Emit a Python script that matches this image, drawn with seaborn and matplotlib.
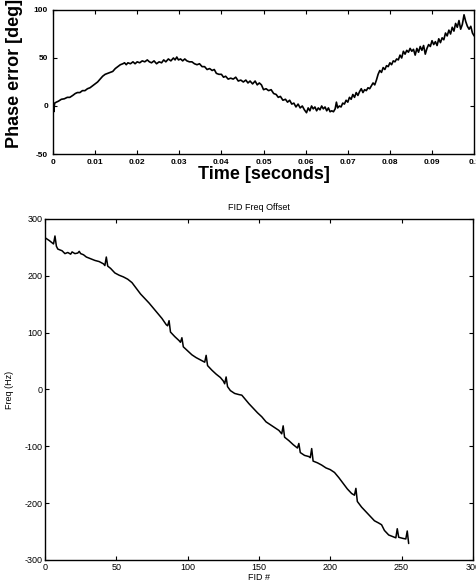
import matplotlib
matplotlib.use("Agg")
import matplotlib.pyplot as plt
import seaborn as sns

sns.set_theme(style="ticks")
plt.rcParams['font.family'] = ['Liberation Sans', 'DejaVu Sans']
plt.rcParams['text.color'] = 'black'
plt.rcParams['axes.labelcolor'] = 'black'
plt.rcParams['xtick.color'] = 'black'
plt.rcParams['ytick.color'] = 'black'
plt.rcParams['axes.unicode_minus'] = False

# top panel: phase error vs time
time_s = [0.0000, 0.0002, 0.0004, 0.0008, 0.0013, 0.0020, 0.0027, 0.0034, 0.0040, 0.0047,
          0.0053, 0.0058, 0.0064, 0.0070, 0.0076, 0.0082, 0.0088, 0.0094, 0.0100, 0.0106,
          0.0112, 0.0118, 0.0124, 0.0130, 0.0136, 0.0142, 0.0148, 0.0154, 0.0160, 0.0166,
          0.0170, 0.0174, 0.0178, 0.0184, 0.0190, 0.0195, 0.0200, 0.0206, 0.0212, 0.0218,
          0.0224, 0.0229, 0.0234, 0.0240, 0.0246, 0.0252, 0.0258, 0.0263, 0.0268, 0.0274,
          0.0280, 0.0286, 0.0290, 0.0294, 0.0298, 0.0303, 0.0308, 0.0313, 0.0318, 0.0324,
          0.0330, 0.0336, 0.0342, 0.0348, 0.0354, 0.0360, 0.0366, 0.0372, 0.0378, 0.0383,
          0.0388, 0.0394, 0.0400, 0.0405, 0.0410, 0.0416, 0.0422, 0.0428, 0.0434, 0.0440,
          0.0446, 0.0452, 0.0458, 0.0463, 0.0468, 0.0474, 0.0480, 0.0485, 0.0490, 0.0495,
          0.0500, 0.0506, 0.0512, 0.0518, 0.0524, 0.0530, 0.0535, 0.0540, 0.0546, 0.0552,
          0.0557, 0.0562, 0.0567, 0.0572, 0.0577, 0.0582, 0.0587, 0.0592, 0.0597, 0.0602,
          0.0606, 0.0610, 0.0614, 0.0618, 0.0622, 0.0626, 0.0630, 0.0634, 0.0638, 0.0642,
          0.0646, 0.0650, 0.0654, 0.0658, 0.0662, 0.0666, 0.0670, 0.0673, 0.0676, 0.0680,
          0.0684, 0.0688, 0.0692, 0.0696, 0.0700, 0.0704, 0.0708, 0.0712, 0.0716, 0.0720,
          0.0724, 0.0728, 0.0732, 0.0736, 0.0740, 0.0744, 0.0748, 0.0752, 0.0756, 0.0760,
          0.0764, 0.0768, 0.0772, 0.0776, 0.0780, 0.0784, 0.0788, 0.0792, 0.0796, 0.0800,
          0.0804, 0.0808, 0.0812, 0.0816, 0.0820, 0.0824, 0.0828, 0.0832, 0.0836, 0.0840,
          0.0844, 0.0848, 0.0852, 0.0856, 0.0860, 0.0864, 0.0868, 0.0872, 0.0876, 0.0880,
          0.0884, 0.0888, 0.0892, 0.0896, 0.0900, 0.0904, 0.0908, 0.0912, 0.0916, 0.0920,
          0.0924, 0.0928, 0.0932, 0.0936, 0.0940, 0.0944, 0.0948, 0.0952, 0.0956, 0.0960,
          0.0964, 0.0968, 0.0972, 0.0976, 0.0980, 0.0984, 0.0988, 0.0992, 0.0996, 0.1000]
phase_deg = [2, -6, 3, 4, 5, 7, 7.5, 9, 9, 11,
             13, 14, 14, 16, 16, 18, 19, 21, 23, 25,
             28, 31, 33, 34, 35, 36, 39, 41, 43, 44,
             45, 43, 45, 44, 46, 44, 46, 45, 47, 46,
             48, 46, 45, 47, 44, 46, 45, 48, 46, 49,
             47, 50, 48, 51, 48, 49, 47, 49, 47, 46,
             46, 44, 43, 44, 41, 41, 38, 39, 37, 38,
             34, 33, 33, 30, 31, 28, 29, 28, 30, 26,
             27, 25, 27, 24, 26, 23, 26, 22, 24, 22,
             17, 18, 16, 17, 13, 12, 9, 10, 6, 7,
             4, 6, 2, 3, -1, 2, -2, 0, -4, -7,
             -2, -5, 0, -3, -1, -5, -2, -4, 0, -3,
             -1, -5, -2, -6, -5, -6, -3, 4, -2, 0,
             -1, 3, 2, 6, 4, 9, 7, 12, 9, 14,
             11, 15, 18, 14, 17, 16, 19, 18, 21, 24,
             22, 27, 33, 37, 35, 40, 38, 42, 41, 45,
             43, 47, 46, 49, 48, 53, 50, 57, 54, 58,
             56, 60, 57, 59, 53, 60, 56, 62, 58, 63,
             54, 60, 64, 62, 68, 64, 67, 63, 70, 66,
             71, 69, 76, 73, 79, 75, 82, 78, 86, 82,
             89, 80, 85, 95, 88, 83, 80, 83, 76, 73]
time_ticks = [0, 0.01, 0.02, 0.03, 0.04, 0.05, 0.06, 0.07, 0.08, 0.09, 0.1]
time_tick_labels = ['0', '0.01', '0.02', '0.03', '0.04', '0.05', '0.06', '0.07', '0.08', '0.09', '0.1']
phase_ticks = [-50, 0, 50, 100]

# bottom panel: frequency offset per FID
fid_num = [0, 3, 6, 7, 8, 9, 12, 14, 16, 18, 19, 21, 23, 24, 25, 27, 29, 32, 35, 38,
           41, 42, 43, 44, 46, 49, 52, 55, 58, 61, 64, 67, 70, 73, 76, 79, 82, 85, 86, 87,
           88, 91, 94, 95, 96, 97, 100, 103, 106, 109, 112, 113, 114, 117, 120, 123, 125, 126, 127, 128,
           130, 133, 136, 138, 140, 143, 146, 149, 152, 155, 158, 161, 164, 166, 167, 168, 171, 174, 177, 178,
           179, 182, 185, 186, 187, 188, 191, 194, 197, 200, 203, 206, 209, 212, 215, 217, 218, 219, 222, 225,
           228, 231, 234, 236, 238, 241, 244, 246, 247, 248, 251, 253, 254, 255]
freq_hz = [267, 262, 256, 270, 252, 247, 244, 239, 241, 238, 242, 239, 240, 243, 239, 237, 233, 230, 227, 225,
           221, 218, 233, 217, 213, 205, 201, 198, 194, 188, 178, 168, 160, 152, 143, 134, 125, 114, 112, 121,
           101, 93, 86, 83, 91, 75, 68, 61, 56, 52, 48, 60, 42, 34, 27, 21, 15, 10, 22, 5,
           -2, -7, -9, -10, -16, -25, -33, -41, -48, -57, -62, -67, -72, -78, -64, -84, -90, -97, -103, -95,
           -111, -116, -118, -120, -104, -126, -129, -133, -138, -141, -146, -155, -165, -175, -183, -186, -174, -197, -207, -215,
           -223, -231, -235, -238, -248, -256, -259, -261, -245, -260, -262, -263, -249, -271]
fid_ticks = [0, 50, 100, 150, 200, 250, 300]
freq_ticks = [-300, -200, -100, 0, 100, 200, 300]

fig = plt.figure(figsize=(4.77, 5.84), dpi=100)
ax1 = fig.add_axes([0.111, 0.7363, 0.883, 0.2466])
ax2 = fig.add_axes([0.0943, 0.0411, 0.897, 0.584])

sns.lineplot(x=time_s, y=phase_deg, ax=ax1, color='black', linewidth=1.2,
             sort=False, estimator=None)
ax1.set_xlim(0, 0.1)
ax1.set_ylim(-50, 100)
ax1.set_xticks(time_ticks)
ax1.set_xticklabels(time_tick_labels)
ax1.set_yticks(phase_ticks)
ax1.set_xlabel('Time [seconds]', fontsize=13, fontweight='bold', labelpad=0)
ax1.set_ylabel('Phase error [deg]', fontsize=13, fontweight='bold')
ax1.yaxis.set_label_coords(-0.071, 0.56)
ax1.tick_params(direction='in', length=3, width=0.8, top=True, right=True,
                labelsize=6, pad=3.5)
for lbl in ax1.get_xticklabels() + ax1.get_yticklabels():
    lbl.set_fontweight('bold')

sns.lineplot(x=fid_num, y=freq_hz, ax=ax2, color='black', linewidth=1.1,
             sort=False, estimator=None)
ax2.set_xlim(0, 300)
ax2.set_ylim(-300, 300)
ax2.set_xticks(fid_ticks)
ax2.set_yticks(freq_ticks)
ax2.set_title('FID Freq Offset', fontsize=6.5, pad=6.5)
ax2.set_xlabel('FID #', fontsize=6.5, labelpad=1)
ax2.set_ylabel('Freq (Hz)', fontsize=6.5, labelpad=7)
ax2.tick_params(direction='in', length=3, width=0.8, top=True, right=True,
                labelsize=6.5, pad=2)

for ax in (ax1, ax2):
    for sp in ax.spines.values():
        sp.set_linewidth(1.0)
        sp.set_color('black')

plt.savefig('out.png', dpi=100)
plt.close()
